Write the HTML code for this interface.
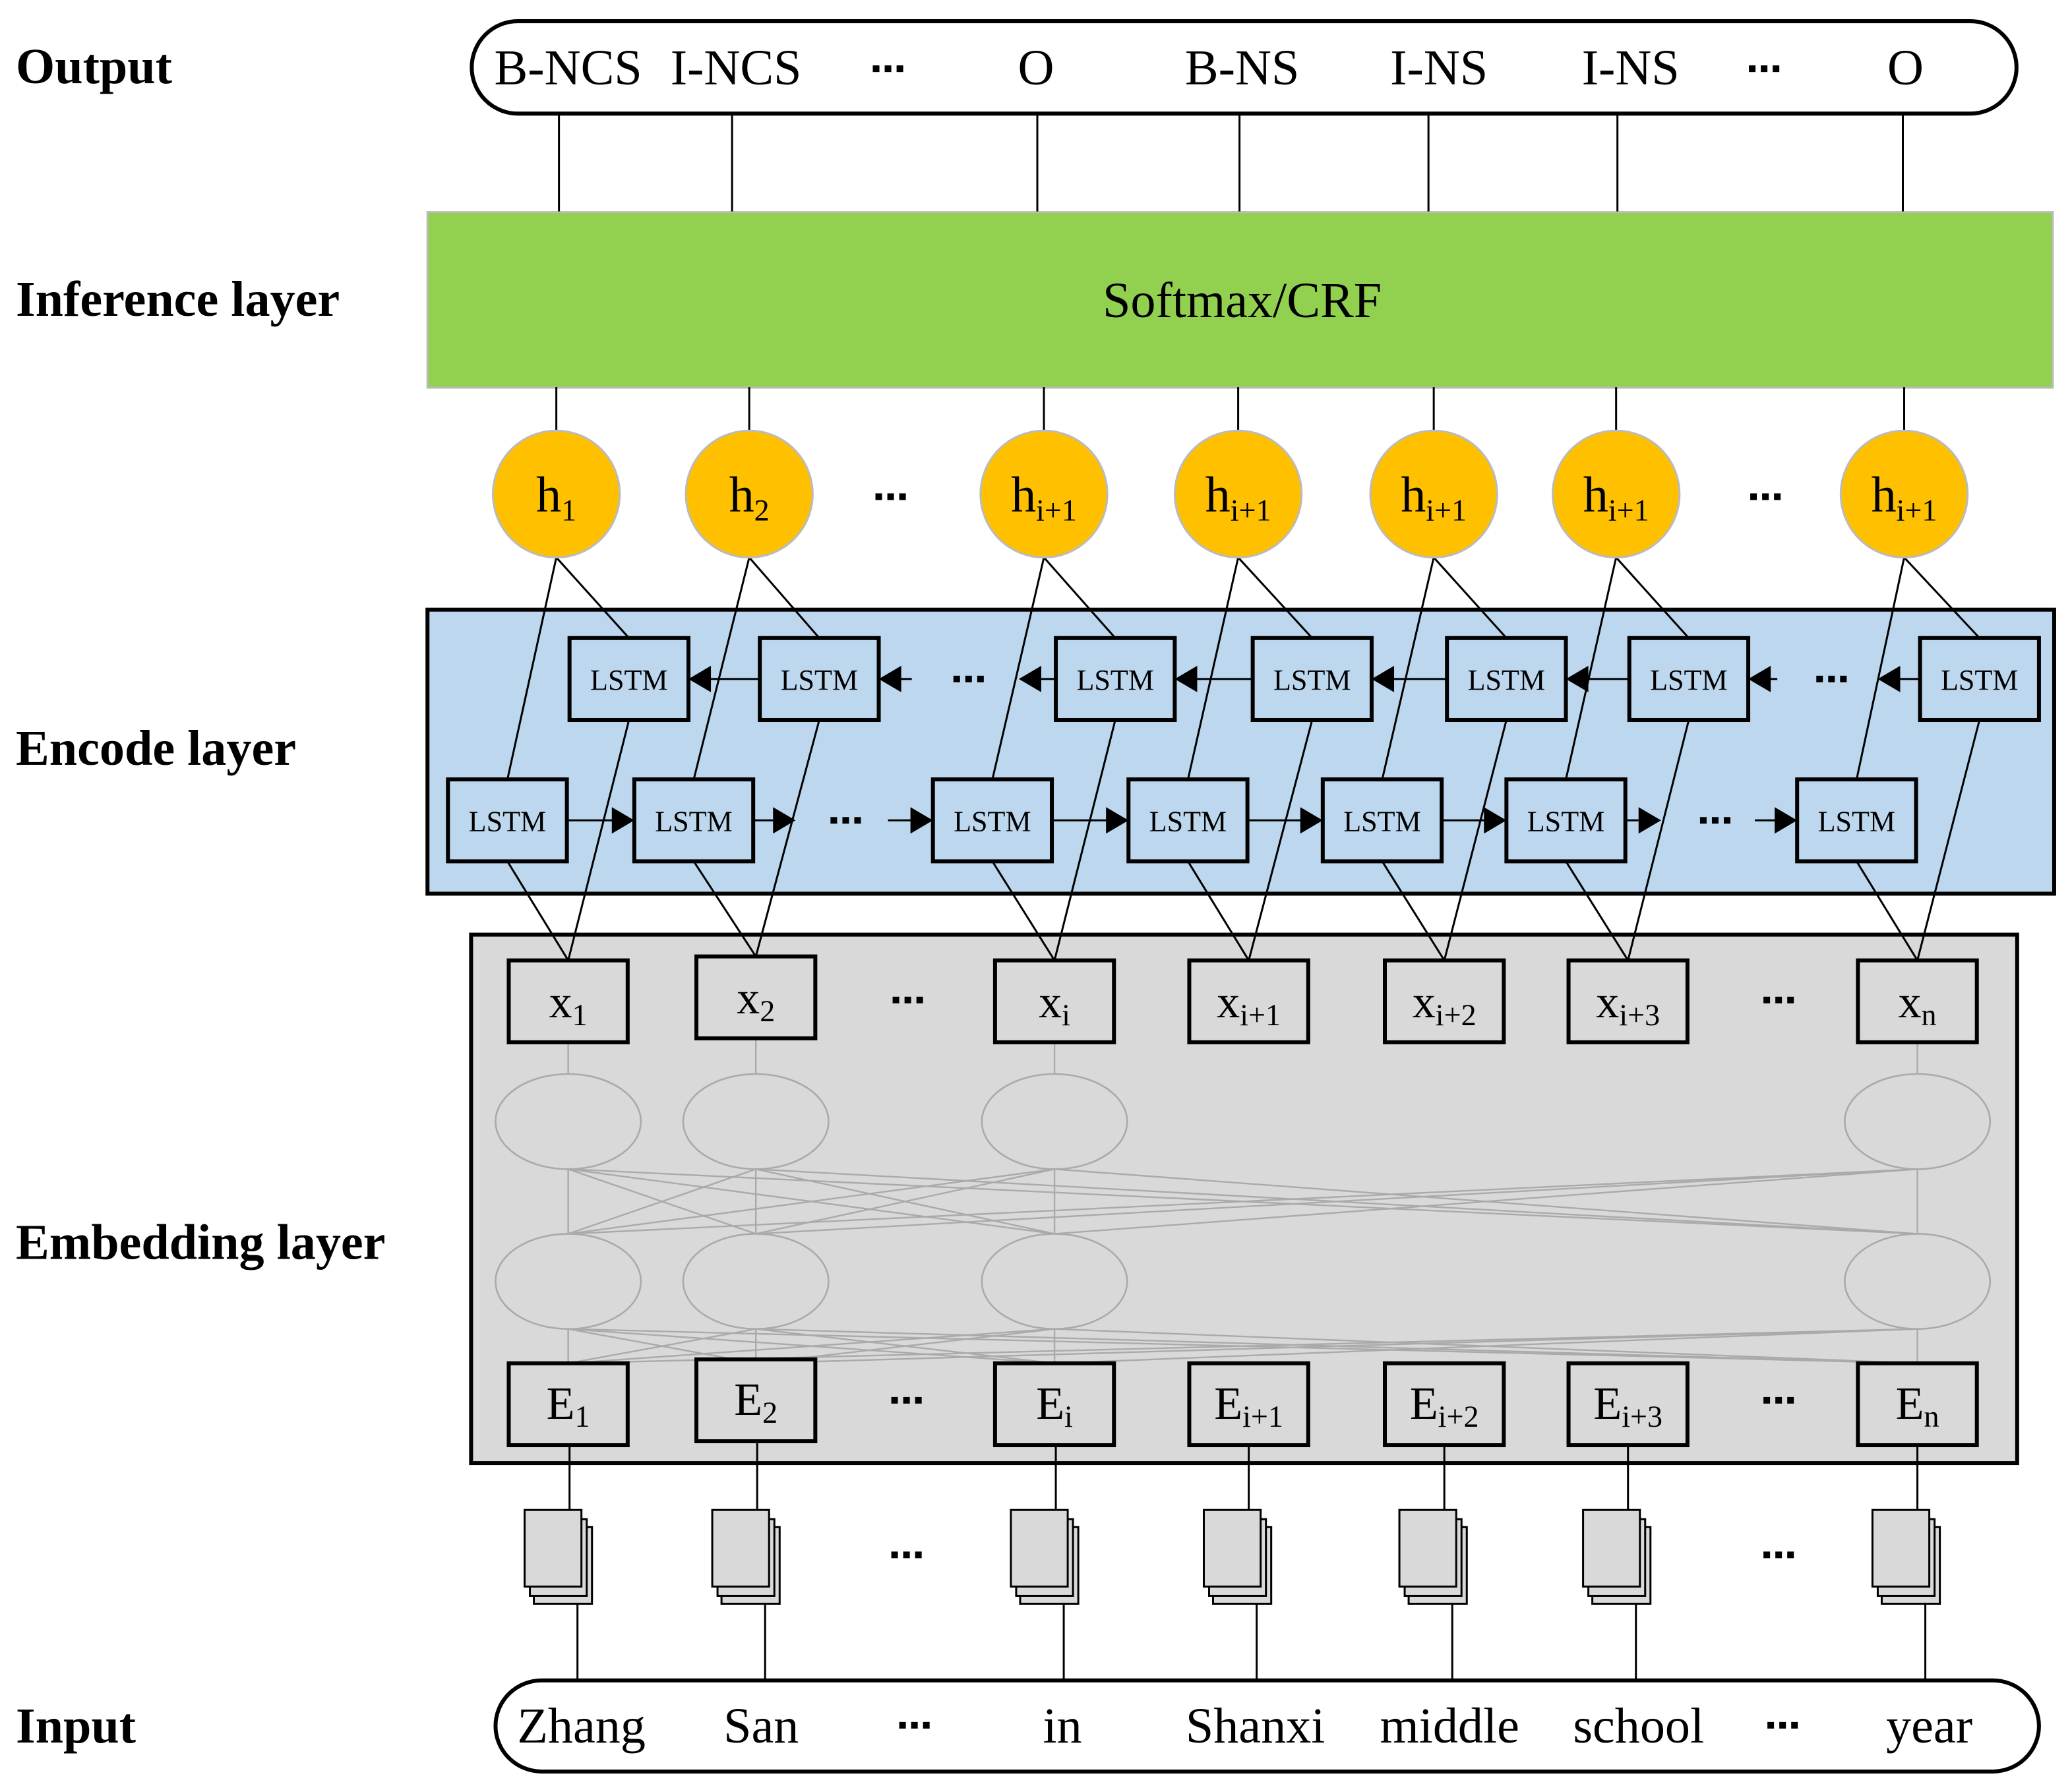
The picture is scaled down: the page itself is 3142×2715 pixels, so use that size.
<!DOCTYPE html>
<html><head><meta charset="utf-8"><style>
html,body{margin:0;padding:0;background:#fff}
svg{display:block}
text{font-family:"Liberation Serif",serif;fill:#000}
.lab{font-weight:bold;font-size:38px}
.o{font-size:38px;text-anchor:middle}
.ls{font-size:22px;text-anchor:middle}
.xv{font-size:35px;text-anchor:middle}
.sub{font-size:23px}
</style></head><body>
<svg id="s" width="3142" height="2715" viewBox="0 0 1568 1355" preserveAspectRatio="none" xmlns="http://www.w3.org/2000/svg">
<rect x="0" y="0" width="1568" height="1355" fill="#fff"/>
<g id="bg">
<rect x="357" y="16" width="1169" height="70" rx="35" fill="#fff" stroke="#000" stroke-width="3"/>
<rect x="323.5" y="160.5" width="1230" height="133" fill="#92d050" stroke="#bbb" stroke-width="1.5"/>
<rect x="323.5" y="461.5" width="1231" height="215" fill="#bdd7ee" stroke="#000" stroke-width="3"/>
<rect x="356.5" y="707.5" width="1170" height="400" fill="#d9d9d9" stroke="#000" stroke-width="3"/>
<rect x="375" y="1272" width="1168" height="69" rx="35" fill="#fff" stroke="#000" stroke-width="3"/>
</g>
<g id="geo"></g>
<g id="txt">
<text class="lab" x="12" y="63">Output</text>
<text class="lab" x="12" y="239">Inference layer</text>
<text class="lab" x="12" y="579">Encode layer</text>
<text class="lab" x="12" y="953">Embedding layer</text>
<text class="lab" x="12" y="1319">Input</text>

<text class="o" x="430" y="64">B-NCS</text>
<text class="o" x="557" y="64">I-NCS</text>
<text class="o" x="784" y="64">O</text>
<text class="o" x="940" y="64">B-NS</text>
<text class="o" x="1089" y="64">I-NS</text>
<text class="o" x="1234" y="64">I-NS</text>
<text class="o" x="1442" y="64">O</text>

<text class="o" x="940" y="240">Softmax/CRF</text>

<text class="o" x="421" y="387">h<tspan class="sub" dy="7">1</tspan></text>
<text class="o" x="567" y="387">h<tspan class="sub" dy="7">2</tspan></text>
<text class="o" x="790" y="387">h<tspan class="sub" dy="7">i+1</tspan></text>
<text class="o" x="937" y="387">h<tspan class="sub" dy="7">i+1</tspan></text>
<text class="o" x="1085" y="387">h<tspan class="sub" dy="7">i+1</tspan></text>
<text class="o" x="1223" y="387">h<tspan class="sub" dy="7">i+1</tspan></text>
<text class="o" x="1441" y="387">h<tspan class="sub" dy="7">i+1</tspan></text>

<text class="ls" x="476" y="522">LSTM</text>
<text class="ls" x="620" y="522">LSTM</text>
<text class="ls" x="844" y="522">LSTM</text>
<text class="ls" x="993" y="522">LSTM</text>
<text class="ls" x="1140" y="522">LSTM</text>
<text class="ls" x="1278" y="522">LSTM</text>
<text class="ls" x="1498" y="522">LSTM</text>
<text class="ls" x="384" y="629">LSTM</text>
<text class="ls" x="525" y="629">LSTM</text>
<text class="ls" x="751" y="629">LSTM</text>
<text class="ls" x="899" y="629">LSTM</text>
<text class="ls" x="1046" y="629">LSTM</text>
<text class="ls" x="1185" y="629">LSTM</text>
<text class="ls" x="1405" y="629">LSTM</text>

<text class="xv" x="430" y="770">x<tspan class="sub" dy="6">1</tspan></text>
<text class="xv" x="572" y="767">x<tspan class="sub" dy="6">2</tspan></text>
<text class="xv" x="798" y="770">x<tspan class="sub" dy="6">i</tspan></text>
<text class="xv" x="945" y="770">x<tspan class="sub" dy="6">i+1</tspan></text>
<text class="xv" x="1093" y="770">x<tspan class="sub" dy="6">i+2</tspan></text>
<text class="xv" x="1232" y="770">x<tspan class="sub" dy="6">i+3</tspan></text>
<text class="xv" x="1451" y="770">x<tspan class="sub" dy="6">n</tspan></text>

<text class="xv" x="430" y="1074">E<tspan class="sub" dy="6">1</tspan></text>
<text class="xv" x="572" y="1071">E<tspan class="sub" dy="6">2</tspan></text>
<text class="xv" x="798" y="1074">E<tspan class="sub" dy="6">i</tspan></text>
<text class="xv" x="945" y="1074">E<tspan class="sub" dy="6">i+1</tspan></text>
<text class="xv" x="1093" y="1074">E<tspan class="sub" dy="6">i+2</tspan></text>
<text class="xv" x="1232" y="1074">E<tspan class="sub" dy="6">i+3</tspan></text>
<text class="xv" x="1451" y="1074">E<tspan class="sub" dy="6">n</tspan></text>

<text class="o" x="440" y="1319">Zhang</text>
<text class="o" x="576" y="1319">San</text>
<text class="o" x="804" y="1319">in</text>
<text class="o" x="950" y="1319">Shanxi</text>
<text class="o" x="1097" y="1319">middle</text>
<text class="o" x="1240" y="1319">school</text>
<text class="o" x="1460" y="1319">year</text>
</g>
</svg>
<script>
(function(){
var NS="http://www.w3.org/2000/svg",g=document.getElementById("geo");
function el(t,a){var e=document.createElementNS(NS,t);for(var k in a)e.setAttribute(k,a[k]);g.appendChild(e);return e;}
function L(x1,y1,x2,y2,c,w){el("line",{x1:x1,y1:y1,x2:x2,y2:y2,stroke:c||"#000","stroke-width":w||1.5});}
function R(x,y,w,h,f,sw){el("rect",{x:x,y:y,width:w,height:h,fill:f,stroke:"#000","stroke-width":sw||3});}
function dots(cx,cy){for(var i=-1;i<=1;i++)el("rect",{x:cx+i*9-2.5,y:cy-2.5,width:5,height:5,fill:"#000"});}
function arrR(x,y){el("polygon",{points:(x-17)+","+(y-10)+" "+x+","+y+" "+(x-17)+","+(y+10),fill:"#000"});}
function arrL(x,y){el("polygon",{points:(x+17)+","+(y-10)+" "+x+","+y+" "+(x+17)+","+(y+10),fill:"#000"});}
var C=[{h:421,b:476,f:384,x:430,o:423,d:431,xy:727},{h:567,b:620,f:525,x:572,o:554,d:573,xy:724},{h:790,b:844,f:751,x:798,o:785,d:799,xy:727},{h:937,b:993,f:899,x:945,o:938,d:945,xy:727},{h:1085,b:1140,f:1046,x:1093,o:1081,d:1093,xy:727},{h:1223,b:1278,f:1185,x:1232,o:1224,d:1232,xy:727},{h:1441,b:1498,f:1405,x:1451,o:1440,d:1451,xy:727}];
var E=[0,1,2,6];
E.forEach(function(i){var c=C[i];L(c.x,c.xy+62,c.x,813,"#aaa",1.2);L(c.x,885,c.x,934,"#aaa",1.2);L(c.x,1006,c.x,1032,"#aaa",1.2);});
E.forEach(function(i){E.forEach(function(j){if(i!==j){L(C[i].x,885,C[j].x,934,"#aaa",1.2);L(C[i].x,1006,C[j].x,1032,"#aaa",1.2);}});});
E.forEach(function(i){var c=C[i];el("ellipse",{cx:c.x,cy:849,rx:55,ry:36,fill:"none",stroke:"#aaa","stroke-width":1.3});el("ellipse",{cx:c.x,cy:970,rx:55,ry:36,fill:"none",stroke:"#aaa","stroke-width":1.3});});
C.forEach(function(c,i){
 L(c.o,86,c.o,160);
 L(c.h,293,c.h,326);
 L(c.h,422,c.f,590);L(c.h,422,c.b,483);
 L(c.f,652,c.x,c.xy);L(c.b,545,c.x,c.xy);
 el("circle",{cx:c.h,cy:374,r:48,fill:"#ffc000",stroke:"#bbb","stroke-width":1.5});
 R(c.b-45,483,90,62,"#bdd7ee");
 R(c.f-45,590,90,62,"#bdd7ee");
 R(c.x-45,c.xy,90,62,"#d9d9d9");
 R(c.x-45,c.xy===724?1029:1032,90,62,"#d9d9d9");
 var ey=(c.xy===724?1091:1094);
 L(c.d,ey,c.d,1143);
 var dl=c.d-34;
 R(dl+7,1156,44,58,"#d9d9d9",1.5);
 R(dl+4,1150,43,58,"#d9d9d9",1.5);
 R(dl,1143,43,58,"#d9d9d9",1.5);
 L(c.d+6,1214,c.d+6,1273);
});
[[1,0],[3,2],[4,3],[5,4]].forEach(function(p){var a=C[p[0]],b=C[p[1]];L(a.b-45,514,b.b+45+15,514);arrL(b.b+45,514);});
L(690,514,670,514);arrL(665,514);dots(733,514);L(799,514,785,514);arrL(771,514);
L(1345,514,1330,514);arrL(1323,514);dots(1386,514);L(1453,514,1438,514);arrL(1421,514);
[[0,1],[2,3],[3,4],[4,5]].forEach(function(p){var a=C[p[0]],b=C[p[1]];L(a.f+45,621,b.f-45-15,621);arrR(b.f-45,621);});
L(570,621,585,621);arrR(602,621);dots(640,621);L(672,621,690,621);arrR(706,621);
L(1230,621,1240,621);arrR(1257,621);dots(1298,621);L(1328,621,1345,621);arrR(1360,621);
dots(672,52);dots(1335,52);dots(674,376);dots(1336,376);
dots(687,757);dots(1346,757);dots(686,1060);dots(1346,1060);
dots(686,1177);dots(1346,1177);dots(692,1306);dots(1349,1306);
})();
</script>
</body></html>
